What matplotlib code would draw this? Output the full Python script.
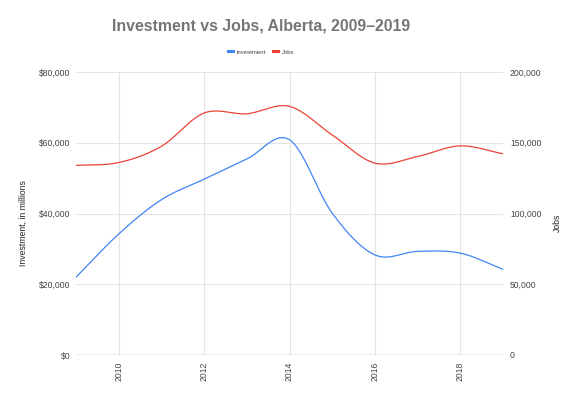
import matplotlib
matplotlib.use("Agg")
import matplotlib.pyplot as plt
import numpy as np
from matplotlib.lines import Line2D
from matplotlib.ticker import FuncFormatter

years = [2009, 2010, 2011, 2012, 2013, 2014, 2015, 2016, 2017, 2018, 2019]
investment = [22000, 34200, 43900, 49700, 55400, 60850, 40100, 28300, 29300, 28800, 24200]
jobs = [134000, 136000, 147500, 171000, 170500, 175700, 155500, 135600, 140300, 147800, 142200]

BLUE = "#4285F4"
RED = "#EA4335"
GRID = "#e4e4e4"
TEXT = "#444444"


def smooth(x, y, n=40):
    # Catmull-Rom style curve through every point, like the sheet's smoothed lines
    x = np.asarray(x, float)
    y = np.asarray(y, float)
    m = np.gradient(y, x)
    xs, ys = [], []
    for i in range(len(x) - 1):
        h = x[i + 1] - x[i]
        t = np.linspace(0, 1, n, endpoint=False)
        h00 = 2 * t**3 - 3 * t**2 + 1
        h10 = t**3 - 2 * t**2 + t
        h01 = -2 * t**3 + 3 * t**2
        h11 = t**3 - t**2
        xs.append(x[i] + t * h)
        ys.append(h00 * y[i] + h10 * h * m[i] + h01 * y[i + 1] + h11 * h * m[i + 1])
    xs.append([x[-1]])
    ys.append([y[-1]])
    return np.concatenate(xs), np.concatenate(ys)


plt.rcParams["font.family"] = ["Liberation Sans", "DejaVu Sans"]

fig = plt.figure(figsize=(5.8, 3.96), dpi=100)
ax = fig.add_axes([76 / 580, 1 - 355 / 396, 427 / 580, 283 / 396])
ax2 = ax.twinx()

ax.set_zorder(ax2.get_zorder() + 1)
ax.patch.set_visible(False)

bx, by = smooth(years, investment)
jx, jy = smooth(years, jobs)
ax.plot(bx, by, color=BLUE, lw=0.9, solid_capstyle="round")
ax.plot(jx, jy * 80000 / 200000, color=RED, lw=0.9, solid_capstyle="round")

ax.set_xlim(2009, 2019)
ax.set_ylim(0, 80000)
ax2.set_ylim(0, 200000)
ax.set_xticks([2010, 2012, 2014, 2016, 2018])
ax.set_yticks([0, 20000, 40000, 60000, 80000])
ax2.set_yticks([0, 50000, 100000, 150000, 200000])
ax.yaxis.set_major_formatter(FuncFormatter(lambda v, p: f"${v:,.0f}"))
ax2.yaxis.set_major_formatter(FuncFormatter(lambda v, p: f"{v:,.0f}"))

ax.grid(True, color=GRID, lw=0.8)
ax.set_axisbelow(True)
for a in (ax, ax2):
    for s in a.spines.values():
        s.set_visible(False)
ax.axhline(0, color="#8a8a8a", lw=0.9, zorder=1)

ax.tick_params(axis="both", length=0, labelsize=6.2, labelcolor=TEXT)
ax.tick_params(axis="y", pad=4)
ax.tick_params(axis="x", pad=5, labelrotation=90)
ax2.tick_params(axis="y", length=0, labelsize=6.2, labelcolor=TEXT, pad=5)

fig.text(23 / 580, 1 - 223 / 396, "Investment, in millions", rotation=90,
         ha="center", va="center", fontsize=6.2, color="#222222")
fig.text(557 / 580, 1 - 223 / 396, "Jobs", rotation=90,
         ha="center", va="center", fontsize=6.2, color="#222222")

fig.text(261 / 580, 1 - 26 / 396, "Investment vs Jobs, Alberta, 2009\u20132019",
         ha="center", va="center", fontsize=11.4, fontweight="bold", color="#757575")

handles = [Line2D([], [], color=BLUE, lw=2.2), Line2D([], [], color=RED, lw=2.2)]
fig.legend(handles, ["investment", "Jobs"], loc="center", ncol=2,
           bbox_to_anchor=(261 / 580, 1 - 52 / 396), frameon=False,
           fontsize=4.3, handlelength=0.8, handletextpad=0.6, columnspacing=1.3,
           labelcolor=TEXT)

plt.savefig("out.png", dpi=100)
